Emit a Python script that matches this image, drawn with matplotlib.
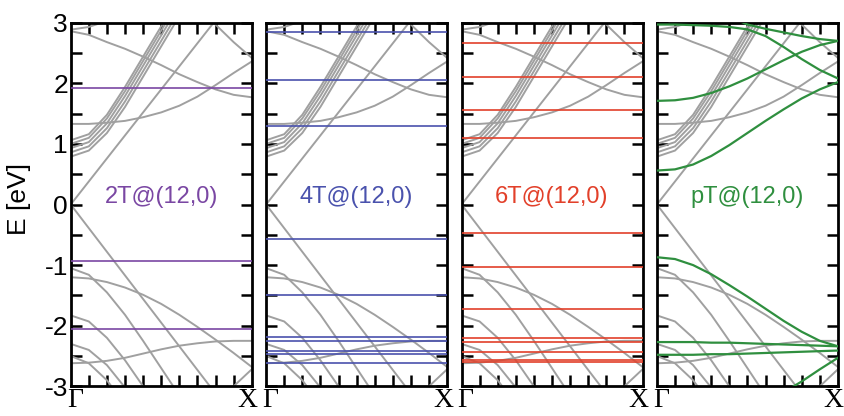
import numpy as np
import matplotlib.pyplot as plt

nan = np.nan

# k points along Gamma -> X (fraction of the zone)
k = [0.0, 0.1, 0.2, 0.3, 0.4, 0.5, 0.6, 0.7, 0.8, 0.9, 1.0]
k_labels = ['Γ', 'X']

# gray host bands of the (12,0) tube (eV)
cb_linear = [0.0, 0.38, 0.76, 1.14, 1.52, 1.90, 2.28, 2.66, 3.04, 3.42, 3.80]
cb_fold = [nan, nan, nan, nan, nan, nan, 3.60, 3.28, 2.97, 2.68, 2.42]
cb_top = [2.885, 2.93, 3.03, 3.15, 3.30, nan, nan, nan, nan, nan, nan]
cb_down = [2.86, 2.80, 2.68, 2.57, 2.44, 2.30, 2.15, 2.02, 1.90, 1.81, 1.77]
cb_flat = [1.33, 1.33, 1.35, 1.38, 1.44, 1.52, 1.63, 1.78, 1.97, 2.17, 2.36]
cb_1 = [1.06, 1.16, 1.48, 1.94, 2.44, 2.94, 3.44, nan, nan, nan, nan]
cb_2 = [1.00, 1.10, 1.42, 1.87, 2.37, 2.87, 3.37, nan, nan, nan, nan]
cb_3 = [0.93, 1.03, 1.34, 1.79, 2.29, 2.79, 3.29, nan, nan, nan, nan]
cb_4 = [0.86, 0.96, 1.26, 1.70, 2.20, 2.70, 3.20, nan, nan, nan, nan]
cb_5 = [0.79, 0.89, 1.18, 1.61, 2.11, 2.61, 3.11, nan, nan, nan, nan]

vb_linear = [0.0, -0.39, -0.78, -1.17, -1.56, -1.95, -2.34, -2.73, -3.12, nan, nan]
vb_1 = [-1.05, -1.16, -1.45, -1.82, -2.25, -2.70, -3.15, nan, nan, nan, nan]
vb_2 = [-1.20, -1.22, -1.28, -1.37, -1.49, -1.64, -1.82, -2.02, -2.23, -2.45, -2.68]
vb_3 = [-2.62, -2.61, -2.58, -2.53, -2.46, -2.39, -2.33, -2.29, -2.26, -2.25, -2.25]
vb_4 = [-1.83, -1.93, -2.20, -2.57, -3.00, -3.45, nan, nan, nan, nan, nan]
vb_5 = [-2.30, -2.40, -2.65, -3.02, -3.45, nan, nan, nan, nan, nan, nan]
vb_6 = [-2.50, -2.62, -2.90, -3.30, nan, nan, nan, nan, nan, nan, nan]
vb_7 = [nan, nan, nan, nan, nan, nan, nan, nan, -3.30, -3.00, -2.72]

gray_bands = [cb_linear, cb_fold, cb_top, cb_down, cb_flat, cb_1, cb_2, cb_3,
              cb_4, cb_5, vb_linear, vb_1, vb_2, vb_3, vb_4, vb_5, vb_6, vb_7]

# flat defect levels (eV)
levels_2T = [1.93, -0.93, -2.05]
levels_4T = [2.84, 2.05, 1.30, -0.57, -1.49, -2.18, -2.25, -2.42, -2.47, -2.62]
levels_6T = [2.66, 2.11, 1.56, 1.09, -0.47, -1.03, -1.73, -2.21, -2.27, -2.43,
             -2.56, -2.60]

# dispersive pT bands (eV)
pT_1 = [1.71, 1.72, 1.76, 1.84, 1.95, 2.08, 2.23, 2.38, 2.52, 2.63, 2.70]
pT_2 = [0.56, 0.58, 0.66, 0.80, 0.98, 1.18, 1.38, 1.57, 1.75, 1.90, 2.02]
pT_3 = [2.97, 2.97, 2.96, 2.95, 2.93, 2.89, 2.78, 2.60, 2.40, 2.22, 2.08]
pT_4 = [nan, nan, nan, nan, 3.10, 2.97, 2.90, 2.84, 2.78, 2.73, 2.70]
pT_5 = [-0.87, -0.90, -1.00, -1.15, -1.33, -1.52, -1.72, -1.92, -2.10, -2.25, -2.34]
pT_6 = [-2.27, -2.27, -2.27, -2.28, -2.28, -2.29, -2.30, -2.31, -2.32, -2.33, -2.34]
pT_7 = [-2.48, -2.48, -2.48, -2.47, -2.47, -2.46, -2.45, -2.44, -2.43, -2.42, -2.41]
pT_8 = [nan, nan, nan, nan, nan, nan, nan, -3.10, -2.92, -2.72, -2.53]
pT_bands = [pT_1, pT_2, pT_3, pT_4, pT_5, pT_6, pT_7, pT_8]

labels = ['2T@(12,0)', '4T@(12,0)', '6T@(12,0)', 'pT@(12,0)']
colors = ['#7a47a3', '#4a52ad', '#e2402a', '#2f8f3f']
levels = [levels_2T, levels_4T, levels_6T, None]

fig = plt.figure(figsize=(8.44, 4.16), dpi=100)
lefts = [70.7, 266.1, 461.5, 656.9]
yt = np.arange(-3, 3.01, 0.5)

for i in range(4):
    ax = fig.add_axes([lefts[i] / 844, 0.0714, 181 / 844, 0.874])
    for band in gray_bands:
        ax.plot(k, band, color='#a0a0a0', lw=1.4, zorder=2)
    if levels[i] is not None:
        for e in levels[i]:
            ax.axhline(e, color=colors[i], lw=1.2, zorder=3)
    else:
        for band in pT_bands:
            ax.plot(k, band, color=colors[i], lw=1.6, zorder=3)
    ax.text(0.5, 0.12, labels[i], color=colors[i], fontsize=17,
            family='Liberation Sans', ha='center', va='center', zorder=4)

    ax.set_xlim(0, 1)
    ax.set_ylim(-3, 3)
    ax.set_xticks([])
    ax.set_xticks(np.arange(0.1, 1.0, 0.1), minor=True)
    # Gamma and X drawn as annotations so they can be nudged apart
    ax.annotate(k_labels[0], xy=(k[0], 0), xycoords=('data', 'axes fraction'),
                xytext=(3, -1.5), textcoords='offset points', ha='center', va='top',
                family='Liberation Serif', fontsize=20, annotation_clip=False)
    ax.annotate(k_labels[1], xy=(k[-1], 0), xycoords=('data', 'axes fraction'),
                xytext=(-3, -1.5), textcoords='offset points', ha='center', va='top',
                family='Liberation Serif', fontsize=20, annotation_clip=False)
    ax.set_yticks(yt)
    if i == 0:
        ax.set_yticklabels([str(int(v)) if v == int(v) else '' for v in yt],
                           family='Liberation Sans', fontsize=19)
    else:
        ax.set_yticklabels([])
    ax.tick_params(axis='both', which='both', direction='in', top=True, right=True,
                   length=8, width=1.8)
    ax.tick_params(axis='y', pad=2)
    for s in ax.spines.values():
        s.set_linewidth(2)

fig.text(19 / 844, 1 - 199 / 416, 'E [eV]', rotation=90, fontsize=19,
         family='Liberation Sans', ha='center', va='center')

plt.savefig('out.png', dpi=100)
